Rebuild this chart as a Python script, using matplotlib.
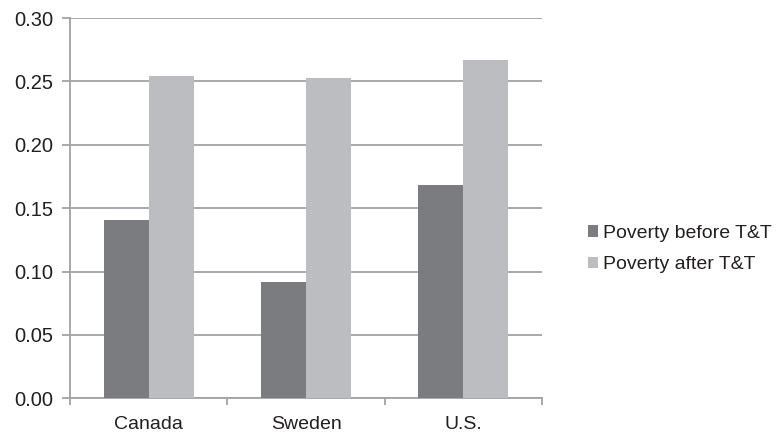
import matplotlib.pyplot as plt
import numpy as np

# Poverty rates by country, before and after taxes & transfers
countries = ["Canada", "Sweden", "U.S."]
before_tt = [0.141, 0.092, 0.168]
after_tt = [0.254, 0.253, 0.267]
yticks = [0.00, 0.05, 0.10, 0.15, 0.20, 0.25, 0.30]

plt.rcParams['font.family'] = ['Liberation Sans', 'DejaVu Sans']
plt.rcParams['font.size'] = 14

fig = plt.figure(figsize=(7.79, 4.37), dpi=100)
ax = fig.add_axes([0.0899, 0.0886, 0.6059, 0.8702])

x = np.arange(len(countries))
w = 0.286
ax.bar(x - w / 2, before_tt, w, color="#7b7c80", label="Poverty before T&T", zorder=3)
ax.bar(x + w / 2, after_tt, w, color="#bcbdc1", label="Poverty after T&T", zorder=3)

ax.set_xlim(-0.5, len(countries) - 0.5)
ax.set_ylim(0, 0.30)
ax.set_yticks(yticks)
ax.set_yticklabels([f"{v:.2f}" for v in yticks], color="#231f20", fontsize=14.5)
ax.yaxis.grid(True, color="#a3a3a7", linewidth=1.3, zorder=0)

# category labels centred, tick marks on the category boundaries
ax.set_xticks(x)
ax.set_xticklabels(countries, color="#231f20")
ax.tick_params(axis="x", length=0, pad=13)
ax.set_xticks(np.arange(len(countries) + 1) - 0.5, minor=True)
ax.tick_params(axis="x", which="minor", length=5, color="#a3a3a7", width=1.3)
ax.tick_params(axis="y", length=6, color="#a3a3a7", width=1.3, pad=6)

for s in ["top", "right"]:
    ax.spines[s].set_visible(False)
for s in ["left", "bottom"]:
    ax.spines[s].set_color("#a3a3a7")
    ax.spines[s].set_linewidth(1.3)

fig.legend(loc="center left", bbox_to_anchor=(0.732, 0.430), frameon=False,
           handlelength=0.55, handleheight=0.55, handletextpad=0.25,
           labelspacing=0.75, fontsize=14, labelcolor="#231f20")

plt.savefig("out.png", dpi=100)
